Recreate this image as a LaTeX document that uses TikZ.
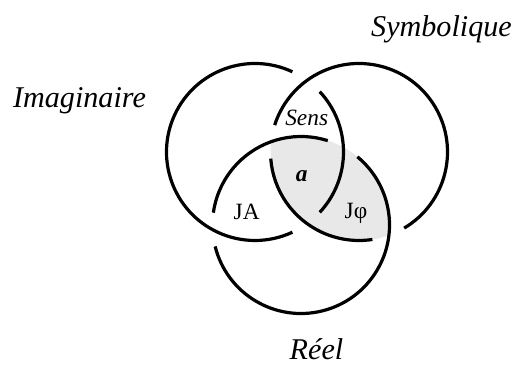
\documentclass[tikz,border=0pt]{standalone}
\usepackage{fontspec}
\setmainfont{Liberation Serif}
\begin{document}
\begin{tikzpicture}[x=0.75pt,y=0.75pt,
  ring/.style={line width=2.4pt,line cap=butt},
  biglabel/.style={font=\fontsize{22.6}{24}\selectfont\itshape,inner sep=0pt,anchor=base},
  smalllabel/.style={font=\fontsize{17.5}{19}\selectfont,inner sep=0pt,anchor=base}]
\useasboundingbox (0,0) rectangle (515,367);
\def\rr{88.5}
% ring centres
\coordinate (L) at (255,215);
\coordinate (R) at (359,215);
\coordinate (B) at (301,142);
% shaded overlap of the Symbolic and Real rings
\begin{scope}
  \clip (R) circle (\rr);
  \fill[black!9] (B) circle (\rr);
\end{scope}
% Imaginary ring (passes under the Symbolic one)
\draw[ring] ([shift={(65:\rr)}]L) arc[start angle=65,end angle=295,radius=\rr];
\draw[ring] ([shift={(-43:\rr)}]L) arc[start angle=-43,end angle=43,radius=\rr];
% Symbolic ring (passes under the Real one)
\draw[ring] ([shift={(-59.3:\rr)}]R) arc[start angle=-59.3,end angle=162.3,radius=\rr];
\draw[ring] ([shift={(184.3:\rr)}]R) arc[start angle=184.3,end angle=278.7,radius=\rr];
% Real ring (passes under the Imaginary one)
\draw[ring] ([shift={(72.4:\rr)}]B) arc[start angle=72.4,end angle=172,radius=\rr];
\draw[ring] ([shift={(194:\rr)}]B) arc[start angle=194,end angle=410.4,radius=\rr];
% labels
\node[biglabel] (imag) at (79.5,259) {Imaginaire};
\node[biglabel] (symb) at (441.5,330.5) {Symbolique};
\node[biglabel] (reel) at (316.5,7) {Réel};
\node[smalllabel,font=\fontsize{17.5}{19}\selectfont\itshape] (sens) at (306.7,241) {Sens};
\node[smalllabel,font=\fontsize{17.5}{19}\selectfont\bfseries\itshape] (obj) at (301.7,185.5) {a};
\node[smalllabel] (ja) at (246.7,147) {JA};
\node[smalllabel] (jphi) at (356,148.5) {Jφ};
\end{tikzpicture}
\end{document}
